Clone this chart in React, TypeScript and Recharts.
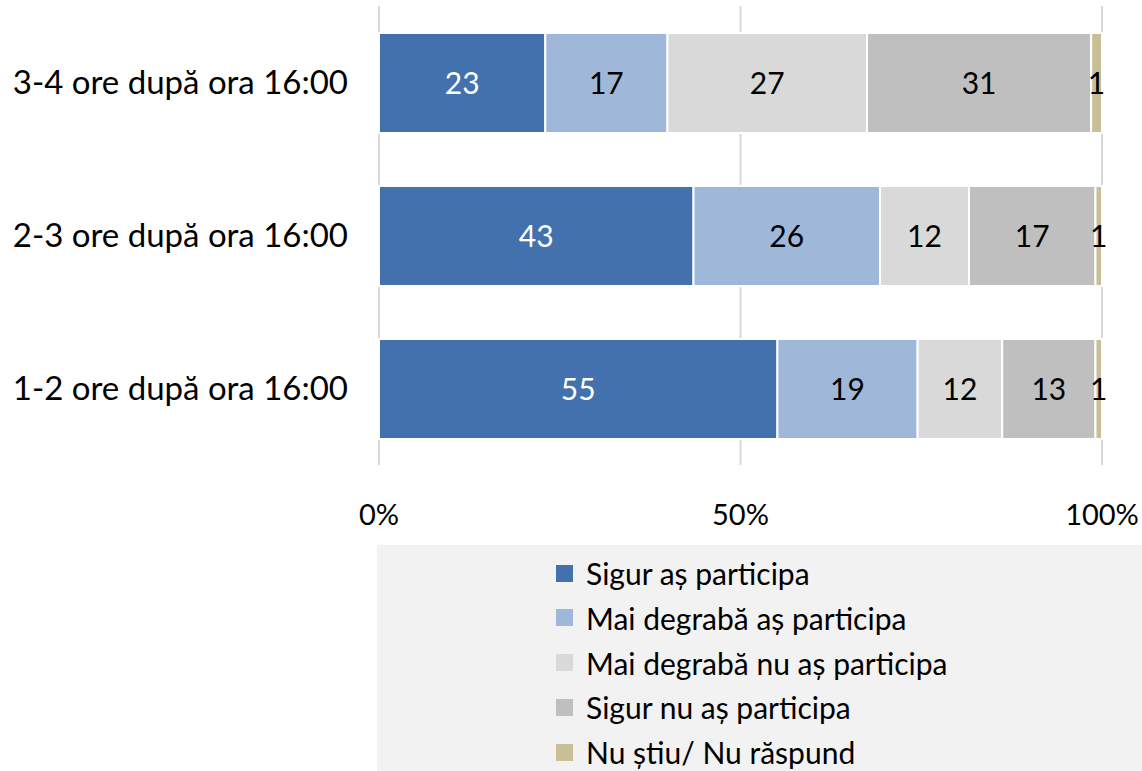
import { BarChart, Bar, XAxis, YAxis, CartesianGrid, LabelList } from 'recharts';

const categories = ['3-4 ore după ora 16:00', '2-3 ore după ora 16:00', '1-2 ore după ora 16:00'];

const seriesNames = [
  'Sigur aș participa',
  'Mai degrabă aș participa',
  'Mai degrabă nu aș participa',
  'Sigur nu aș participa',
  'Nu știu/ Nu răspund',
];
const seriesColors = ['#4271AE', '#9FB8DA', '#D9D9D9', '#BFBFBF', '#C9BF97'];
const labelColors = ['#fff', '#000', '#000', '#000', '#000'];

// share of respondents (%), as measured from bar lengths
const sigurDa = [23.0, 43.5, 55.1];
const maiDegrabaDa = [16.9, 25.8, 19.4];
const maiDegrabaNu = [27.6, 12.3, 11.7];
const sigurNu = [31.0, 17.5, 12.9];
const nuStiu = [1.5, 0.9, 0.9];

// printed labels
const sigurDaLbl = [23, 43, 55];
const maiDegrabaDaLbl = [17, 26, 19];
const maiDegrabaNuLbl = [27, 12, 12];
const sigurNuLbl = [31, 17, 13];
const nuStiuLbl = [1, 1, 1];

const xTicks = [0, 50, 100];

const values = [sigurDa, maiDegrabaDa, maiDegrabaNu, sigurNu, nuStiu];
const labels = [sigurDaLbl, maiDegrabaDaLbl, maiDegrabaNuLbl, sigurNuLbl, nuStiuLbl];

const data = categories.map((cat, i) => {
  const row: any = { cat };
  values.forEach((v, s) => {
    row['s' + s] = v[i];
    row['l' + s] = labels[s][i];
  });
  return row;
});

const FONT = 'Lato, "Open Sans", sans-serif';

export default function App() {
  return (
    <div style={{ position: 'absolute', left: 0, top: 0, width: 1142, height: 771, background: '#fff', fontFamily: FONT }}>
      <BarChart
        width={1142}
        height={545}
        data={data}
        layout="vertical"
        margin={{ top: 6, right: 40, left: 0, bottom: 0 }}
        style={{ fontFamily: FONT }}
      >
        <CartesianGrid vertical={true} horizontal={false} stroke="#D9D9D9" strokeWidth={2} />
        <XAxis
          type="number"
          domain={[0, 100]}
          ticks={xTicks}
          tickFormatter={(v) => `${v}%`}
          axisLine={false}
          tickLine={false}
          tickMargin={33}
          height={80}
          tick={{ fontSize: 29, fill: '#000' }}
        />
        <YAxis
          type="category"
          dataKey="cat"
          width={379}
          axisLine={false}
          tickLine={false}
          tickMargin={25}
          tick={{ fontSize: 33, fill: '#000' }}
        />
        {seriesNames.map((name, s) => (
          <Bar
            key={name}
            dataKey={'s' + s}
            name={name}
            stackId="a"
            fill={seriesColors[s]}
            stroke="#fff"
            strokeWidth={2}
            barSize={100}
            isAnimationActive={false}
          >
            <LabelList dataKey={'l' + s} position="center" fill={labelColors[s]} style={{ fontSize: 30 }} />
          </Bar>
        ))}
      </BarChart>
      <div
        style={{
          position: 'absolute',
          left: 377,
          top: 545,
          width: 765,
          height: 226,
          background: '#F2F2F2',
        }}
      >
        {seriesNames.map((name, s) => (
          <div
            key={name}
            style={{
              position: 'absolute',
              left: 179,
              top: 28 + s * 44.8 - 20,
              height: 40,
              display: 'flex',
              alignItems: 'center',
              fontSize: 30,
              color: '#000',
              whiteSpace: 'nowrap',
            }}
          >
            <span style={{ display: 'inline-block', width: 17, height: 17, background: seriesColors[s], marginRight: 13 }} />
            {name}
          </div>
        ))}
      </div>
    </div>
  );
}
